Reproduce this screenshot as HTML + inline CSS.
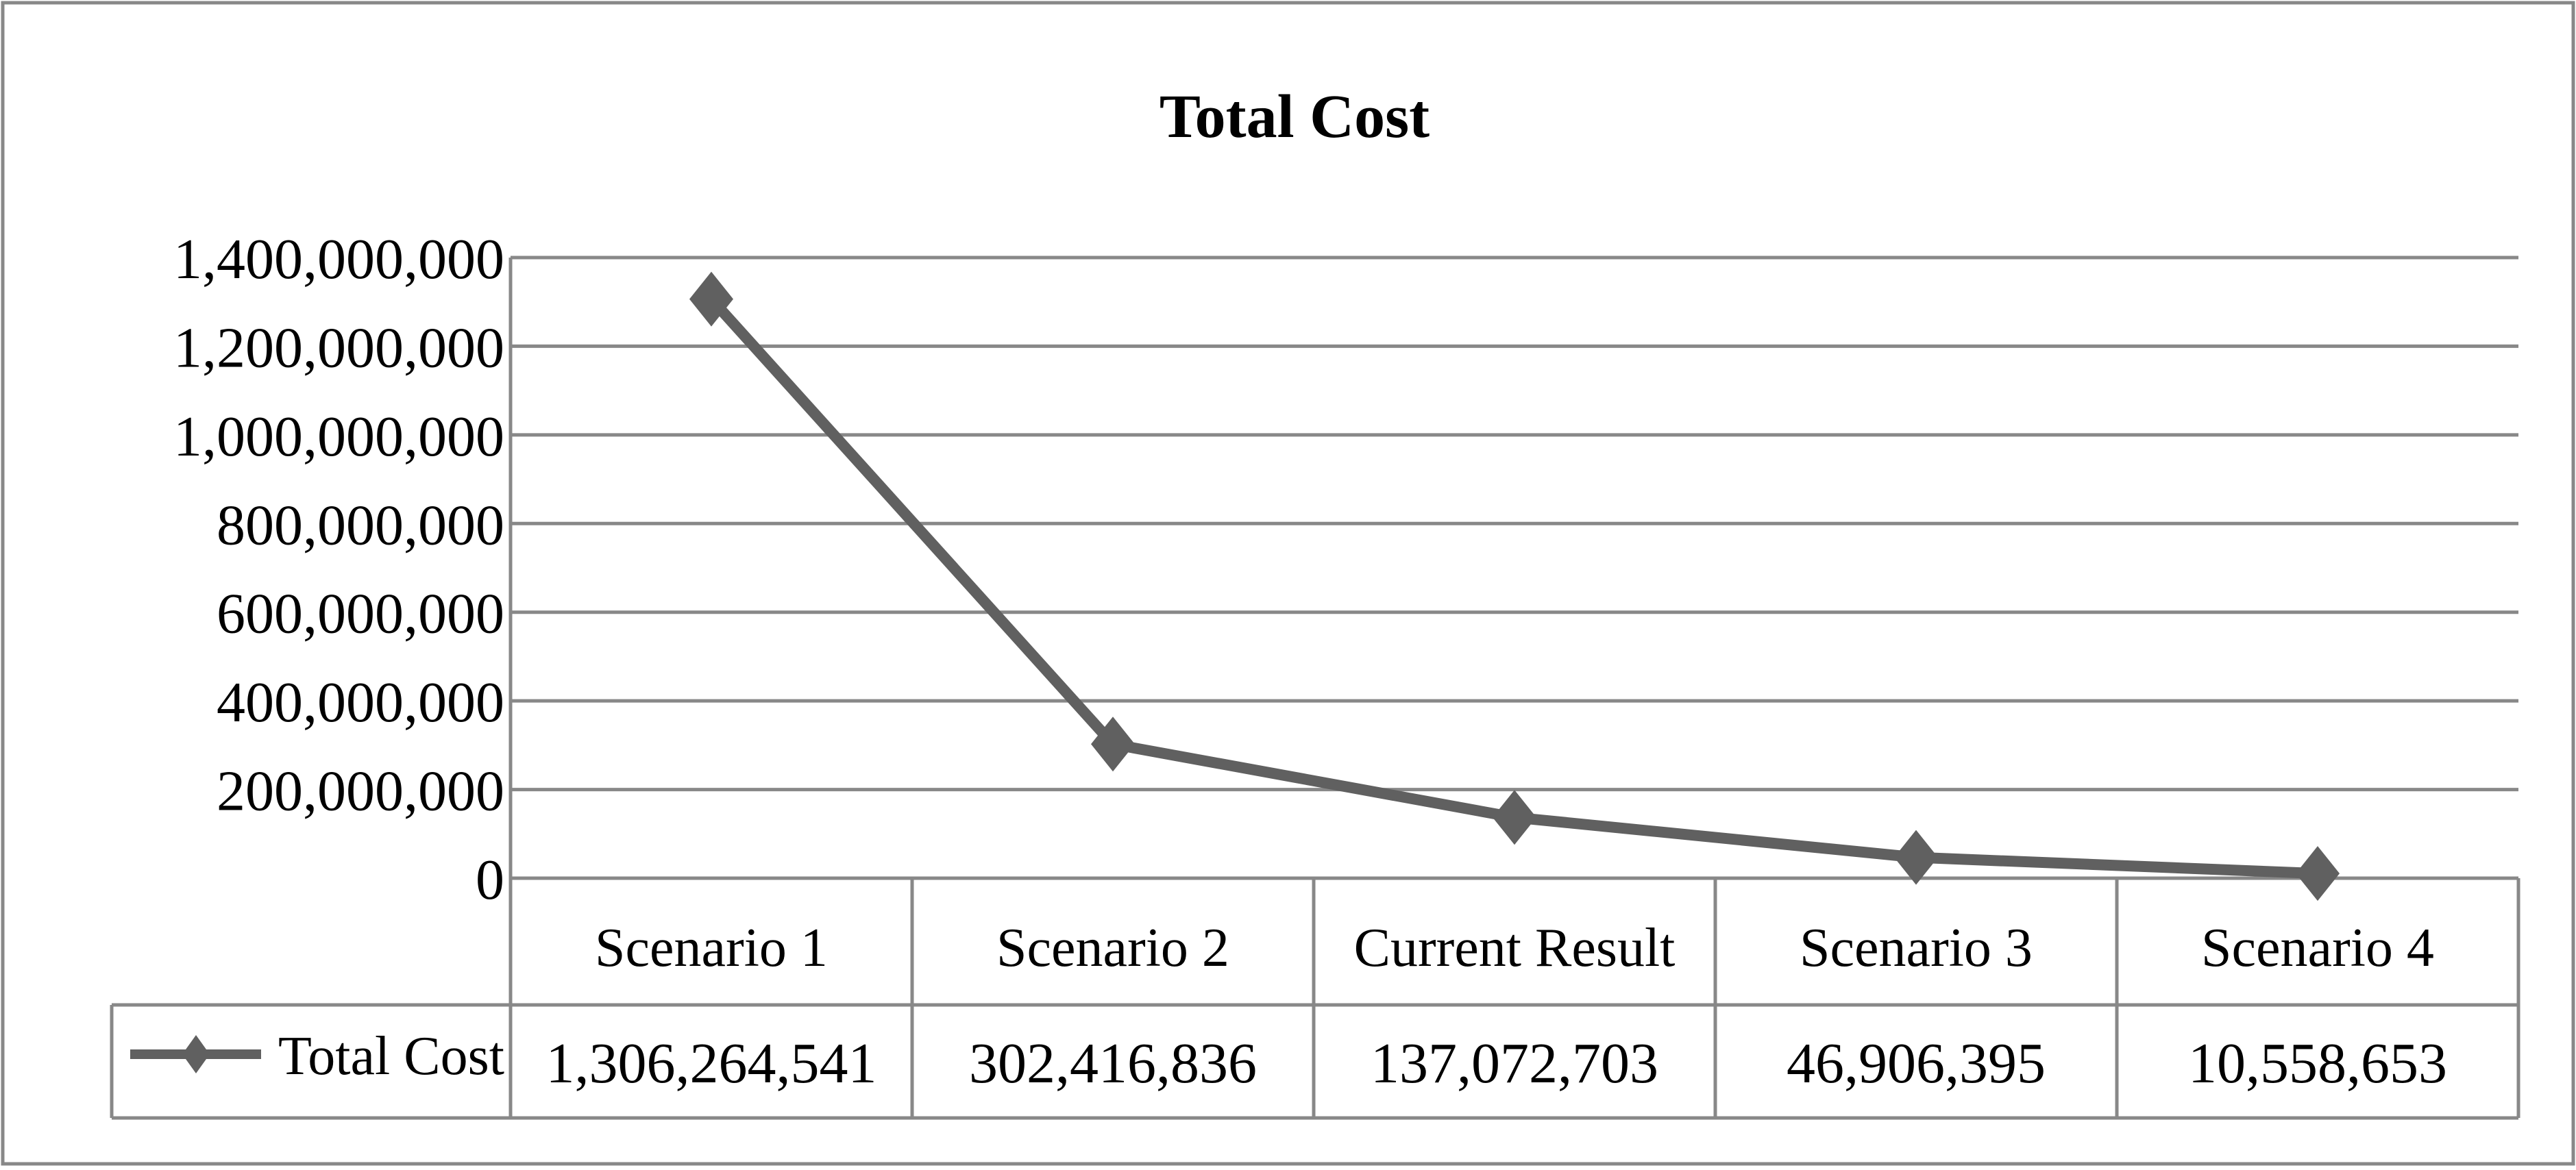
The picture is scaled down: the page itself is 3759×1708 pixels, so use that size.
<!DOCTYPE html>
<html><head><meta charset="utf-8"><style>
html,body{margin:0;padding:0;background:#fff}
svg text{font-family:"Liberation Serif",serif;fill:#000}
</style></head><body>
<svg width="3759" height="1703" viewBox="0 0 3759 1703">
<rect x="4" y="4" width="3751" height="1695" fill="#fff" stroke="#888" stroke-width="5"/>
<text x="1889" y="200" font-size="90" font-weight="bold" text-anchor="middle">Total Cost</text>
<g id="grid"></g><g id="yl"></g><g id="tbl"></g><g id="series"></g>
</svg>
<script>
const categories=["Scenario 1","Scenario 2","Current Result","Scenario 3","Scenario 4"];
const values=[1306264541,302416836,137072703,46906395,10558653];
const valueLabels=["1,306,264,541","302,416,836","137,072,703","46,906,395","10,558,653"];
const yTicks=[0,200000000,400000000,600000000,800000000,1000000000,1200000000,1400000000];
const yTickLabels=["0","200,000,000","400,000,000","600,000,000","800,000,000","1,000,000,000","1,200,000,000","1,400,000,000"];
const NS="http://www.w3.org/2000/svg";
const L=745,R=3675,T=376,B=1282,yMax=1400000000;
const colW=(R-L)/categories.length;
const y=v=>B-(v/yMax)*(B-T);
const x=i=>L+colW*(i+0.5);
function mk(tag,attrs,parent,txt){const e=document.createElementNS(NS,tag);for(const k in attrs)e.setAttribute(k,attrs[k]);if(txt!==undefined)e.textContent=txt;document.getElementById(parent).appendChild(e);return e;}
yTicks.forEach((t,i)=>{
  const g=mk('line',{x1:L,x2:R,y1:y(t),y2:y(t),stroke:'#888','stroke-width':5},'grid');
  
  
  const lb=mk('text',{x:736,y:y(t)+30,'font-size':84,'text-anchor':'end'},'yl',yTickLabels[i]);
  
  
});
const tb=[['line',{x1:L,x2:L,y1:T,y2:1632}],['line',{x1:163,x2:R,y1:1467,y2:1467}],['line',{x1:163,x2:R,y1:1632,y2:1632}],['line',{x1:163,x2:163,y1:1467,y2:1632}]];
tb.forEach(a=>{const e=mk(a[0],Object.assign({stroke:'#888','stroke-width':5},a[1]),'tbl');
  
  });
categories.forEach((c,i)=>{
  const xr=L+colW*(i+1);
  const e=mk('line',{x1:xr,x2:xr,y1:B,y2:1632,stroke:'#888','stroke-width':5},'tbl');
  
  
  const ct=mk('text',{x:x(i),y:1410,'font-size':80,'text-anchor':'middle'},'tbl',c);
  
  
  const vt=mk('text',{x:x(i),y:1580,'font-size':84,'text-anchor':'middle'},'tbl',valueLabels[i]);
  
  
});
const ll=mk('line',{x1:190,x2:381,y1:1539,y2:1539,stroke:'#606060','stroke-width':14},'tbl');


const lm=mk('polygon',{points:'286,1511 306,1539 286,1567 266,1539',fill:'#606060'},'tbl');


const lt=mk('text',{x:406,y:1568,'font-size':80},'tbl','Total Cost');


const pl=mk('polyline',{points:values.map((v,i)=>x(i)+','+y(v)).join(' '),fill:'none',stroke:'#606060','stroke-width':16,'stroke-linejoin':'round'},'series');


values.forEach((v,i)=>{
  const cx=x(i),cy=y(v);
  const d=mk('polygon',{points:`${cx},${cy-40} ${cx+32},${cy} ${cx},${cy+40} ${cx-32},${cy}`,fill:'#606060'},'series');
  
  
});
</script>
</body></html>
